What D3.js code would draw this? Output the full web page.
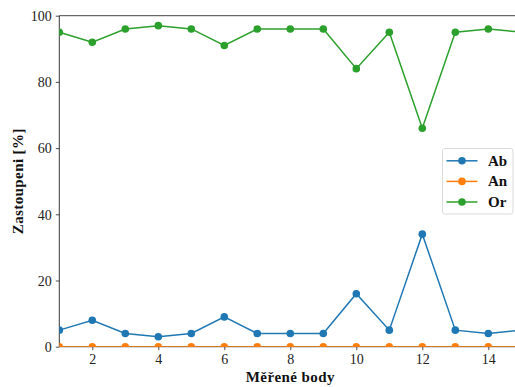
<!DOCTYPE html>
<html>
<head>
<meta charset="utf-8">
<script src="https://cdn.jsdelivr.net/npm/d3@7"></script>
<style>
  html, body { margin: 0; padding: 0; background: #fff; }
  svg { display: block; }
  text { font-family: "Liberation Serif", serif; }
</style>
</head>
<body>
<svg id="chart" width="515" height="387"></svg>
<script>
// Measured points along the profile
const points = [1, 2, 3, 4, 5, 6, 7, 8, 9, 10, 11, 12, 13, 14, 15];
const ab = [5, 8, 4, 3, 4, 9, 4, 4, 4, 16, 5, 34, 5, 4, 5];
const an = [0, 0, 0, 0, 0, 0, 0, 0, 0, 0, 0, 0, 0, 0, 0];
const or = [95, 92, 96, 97, 96, 91, 96, 96, 96, 84, 95, 66, 95, 96, 95];
const seriesNames = ["Ab", "An", "Or"];
const seriesColors = ["#1f77b4", "#ff7f0e", "#2ca02c"];
const xTicks = [2, 4, 6, 8, 10, 12, 14];
const yTicks = [0, 20, 40, 60, 80, 100];

const serif = "'Liberation Serif', serif";

const series = [ab, an, or].map((vals, i) => ({
  name: seriesNames[i],
  color: seriesColors[i],
  values: vals.map((v, j) => ({ x: points[j], y: v }))
}));

const svg = d3.select("#chart");
const plotLeft = 59.3, plotTop = 15.7, plotBottom = 346.7, plotRight = 59.3 + 14 * 33;

const x = d3.scaleLinear().domain([1, 15]).range([plotLeft, plotRight]);
const y = d3.scaleLinear().domain([0, 100]).range([plotBottom, plotTop]);

// Axes
const xAxis = svg.append("g")
  .attr("transform", `translate(0,${plotBottom})`)
  .call(d3.axisBottom(x).tickValues(xTicks).tickSize(3.5).tickPadding(4).tickFormat(d3.format("d")));
const yAxis = svg.append("g")
  .attr("transform", `translate(${plotLeft},0)`)
  .call(d3.axisLeft(y).tickValues(yTicks).tickSize(3.5).tickPadding(4).tickFormat(d3.format("d")));

[xAxis, yAxis].forEach(g => {
  g.attr("font-family", serif).attr("font-size", 14);
  g.select(".domain").remove();
  g.selectAll(".tick line").attr("stroke", "#222").attr("stroke-width", 0.8);
  g.selectAll(".tick text").attr("fill", "#222")
    .style("font-size", "14px").style("font-family", serif);
});
yAxis.selectAll(".tick text").attr("dy", "0.34em");

// Frame
svg.append("line").attr("x1", plotLeft).attr("x2", plotRight).attr("y1", plotTop).attr("y2", plotTop)
  .attr("stroke", "#444").attr("stroke-width", 1);
svg.append("line").attr("x1", plotLeft).attr("x2", plotLeft).attr("y1", plotTop).attr("y2", plotBottom)
  .attr("stroke", "#222").attr("stroke-width", 0.9);
svg.append("line").attr("x1", plotLeft).attr("x2", plotRight).attr("y1", plotBottom).attr("y2", plotBottom)
  .attr("stroke", "#222").attr("stroke-width", 0.9);

// Plot area clip
svg.append("defs").append("clipPath").attr("id", "plotClip")
  .append("rect").attr("x", plotLeft).attr("y", plotTop)
  .attr("width", plotRight - plotLeft).attr("height", plotBottom - plotTop);

const plot = svg.append("g").attr("clip-path", "url(#plotClip)");
const line = d3.line().x(d => x(d.x)).y(d => y(d.y));

series.forEach(s => {
  const g = plot.append("g");
  g.append("path").datum(s.values)
    .attr("d", line).attr("fill", "none")
    .attr("stroke", s.color).attr("stroke-width", 1.5);
  g.selectAll("circle").data(s.values).enter().append("circle")
    .attr("cx", d => x(d.x)).attr("cy", d => y(d.y)).attr("r", 3.8)
    .attr("fill", s.color);
});

// Axis titles
svg.append("text")
  .attr("x", (plotLeft + plotRight) / 2).attr("y", 381.5)
  .attr("text-anchor", "middle")
  .attr("font-family", serif)
  .style("font-size", "15px").style("font-weight", "bold")
  .style("font-family", serif).style("letter-spacing", "0.4px")
  .attr("fill", "#111")
  .text("Měřené body");

svg.append("text")
  .attr("transform", `translate(23,${(plotTop + plotBottom) / 2}) rotate(-90)`)
  .attr("text-anchor", "middle")
  .attr("font-family", serif)
  .style("font-size", "15px").style("font-weight", "bold")
  .style("font-family", serif).style("letter-spacing", "0.4px")
  .attr("fill", "#111")
  .text("Zastoupeni [%]");

// Legend
const legend = svg.append("g").attr("transform", "translate(442.5,148.5)");
legend.append("rect")
  .attr("width", 70.5).attr("height", 65.5).attr("rx", 2.5)
  .attr("fill", "#fff").attr("fill-opacity", 0.8)
  .attr("stroke", "#d6d6d6").attr("stroke-width", 0.9);
series.forEach((s, i) => {
  const row = legend.append("g").attr("transform", `translate(0,${12.3 + i * 20.6})`);
  row.append("line").attr("x1", 4).attr("x2", 35).attr("y1", 0).attr("y2", 0)
    .attr("stroke", s.color).attr("stroke-width", 1.5);
  row.append("circle").attr("cx", 19.5).attr("cy", 0).attr("r", 3.8).attr("fill", s.color);
  row.append("text").attr("x", 45.5).attr("y", 5)
    .attr("font-family", serif)
    .style("font-size", "15px").style("font-weight", "bold")
    .style("font-family", serif)
    .attr("fill", "#111")
    .text(s.name);
});
</script>
</body>
</html>
